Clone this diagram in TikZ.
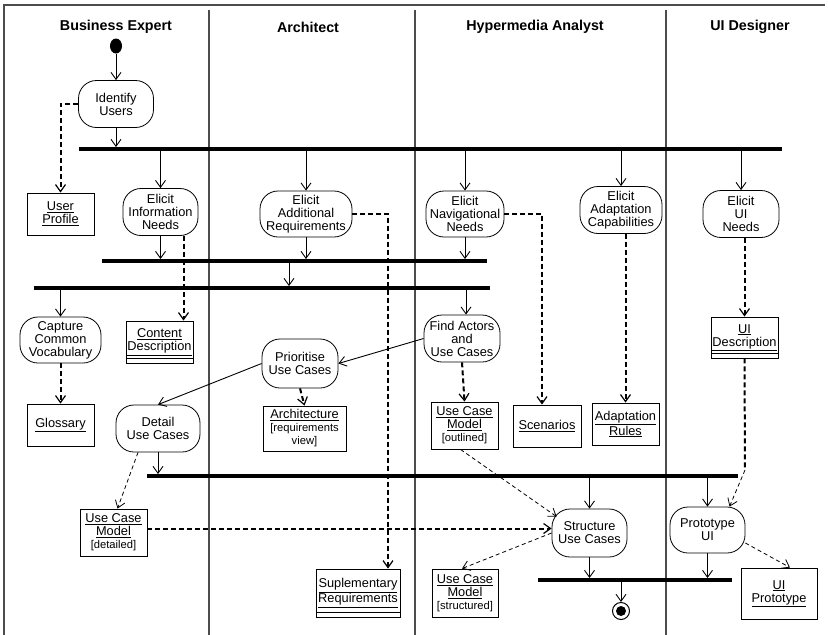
\documentclass[tikz,border=0pt]{standalone}
\usepackage{fontspec}
\setmainfont{Liberation Sans}
\usetikzlibrary{positioning,arrows.meta,shapes.geometric}
\newcommand{\actfont}{\fontsize{12.8}{13}\selectfont}
\newcommand{\tagfont}{\fontsize{11.2}{12}\selectfont}
\tikzset{
  lane/.style={line width=1.2pt,black!70},
  lanehead/.style={font=\bfseries\fontsize{14.3}{16}\selectfont},
  act/.style={draw,line width=0.8pt,rectangle,rounded corners=18pt,align=center,inner sep=0pt,font=\actfont},
  obj/.style={draw,line width=0.9pt,rectangle,align=center,inner sep=0pt,font=\actfont},
  objc/.style={obj,path picture={\draw[line width=0.8pt] ([yshift=5pt]path picture bounding box.south west) -- ([yshift=5pt]path picture bounding box.south east);}},
  bar/.style={fill=black,inner sep=0pt,minimum height=3.5pt},
  flow/.style={line width=0.9pt,-{Straight Barb[length=7pt,width=10pt]}},
  oflow/.style={line width=2pt,dash pattern=on 5pt off 3pt,-{Straight Barb[length=7pt,width=10pt,line width=1.2pt]}},
  tflow/.style={line width=0.8pt,dash pattern=on 4pt off 3pt,-{Straight Barb[length=7pt,width=10pt]}},
  startst/.style={ellipse,fill=black,minimum width=12pt,minimum height=15pt,inner sep=0pt},
  endst/.style={circle,draw,line width=1pt,minimum size=17pt,inner sep=0pt,path picture={\fill (path picture bounding box.center) circle (5pt);}}
}
\begin{document}
\begin{tikzpicture}[x=1pt,y=-1pt]
  \useasboundingbox (0,0) rectangle (828,635);
  % swimlanes
  \draw[lane] (4,635) -- (4,5) -- (825,5);
  \foreach \lx in {209,415,666} \draw[lane] (\lx,10) -- (\lx,635);
  \node[lanehead] (hbe) at (116,27) {Business Expert};
  \node[lanehead] (har) at (308,27) {Architect};
  \node[lanehead] (hha) at (535,27) {Hypermedia Analyst};
  \node[lanehead] (hui) at (750,27) {UI Designer};

  % synchronisation bars
  \node[bar,minimum width=703pt] (bar1) at (430.5,149) {};
  \node[bar,minimum width=385pt] (bar2) at (294.5,261) {};
  \node[bar,minimum width=456pt] (bar3) at (262,288) {};
  \node[bar,minimum width=591pt] (bar4) at (442.5,476) {};
  \node[bar,minimum width=194pt] (bar5) at (635,580) {};

  % activities
  \node[startst] (start) at (116,46) {};
  \node[act,minimum width=75pt,minimum height=47pt] (iu) at (116,104) {Identify\\Users};
  \node[act,minimum width=75pt,minimum height=47pt] (ein) at (160.5,212) {Elicit\\Information\\Needs};
  \node[act,minimum width=92pt,minimum height=46pt] (ear) at (306,214) {Elicit\\Additional\\Requirements};
  \node[act,minimum width=78pt,minimum height=46pt] (enn) at (465,214) {Elicit\\Navigational\\Needs};
  \node[act,minimum width=82pt,minimum height=47pt] (eac) at (621,210) {Elicit\\Adaptation\\Capabilities};
  \node[act,minimum width=76pt,minimum height=47pt] (eui) at (741,214) {Elicit\\UI\\Needs};
  \node[act,minimum width=81pt,minimum height=46pt] (ccv) at (60.5,340) {Capture\\Common\\Vocabulary};
  \node[act,minimum width=76pt,minimum height=47pt] (fauc) at (462,338.5) {Find Actors\\and\\Use Cases};
  \node[act,minimum width=76pt,minimum height=49pt] (puc) at (300,363.5) {Prioritise\\Use Cases};
  \node[act,minimum width=84pt,minimum height=47pt] (duc) at (158,428.5) {Detail\\Use Cases};
  \node[act,minimum width=75pt,minimum height=48pt] (suc) at (589.5,533) {Structure\\Use Cases};
  \node[act,minimum width=75pt,minimum height=46pt] (pui) at (707.5,530) {Prototype\\UI};
  \node[endst] (fin) at (621,611) {};

  % objects
  \node[obj,minimum width=67pt,minimum height=42pt] (up) at (60.5,214) {\underline{User}\\\underline{Profile}};
  \node[objc,minimum width=67pt,minimum height=42pt] (cd) at (159.5,342) {\underline{Content}\\\underline{Description}};
  \node[obj,minimum width=67pt,minimum height=42pt] (gl) at (60.5,425) {\underline{Glossary}};
  \node[obj,minimum width=83pt,minimum height=45pt] (arch) at (304.5,428.5) {\underline{Architecture}\\{\tagfont[requirements}\\{\tagfont view]}};
  \node[obj,minimum width=67pt,minimum height=47pt] (ucmo) at (464.5,425.5) {\underline{Use Case}\\\underline{Model}\\{\tagfont[outlined]}};
  \node[obj,minimum width=68pt,minimum height=42pt] (sc) at (547,426) {\underline{Scenarios}};
  \node[obj,minimum width=67pt,minimum height=42pt] (ar) at (625.5,424) {\underline{Adaptation}\\\underline{Rules}};
  \node[objc,minimum width=67pt,minimum height=41pt] (uid) at (744.5,337.5) {\underline{UI}\\\underline{Description}};
  \node[obj,minimum width=67pt,minimum height=47pt] (ucmd) at (113.5,532.5) {\underline{Use Case}\\\underline{Model}\\{\tagfont[detailed]}};
  \node[obj,minimum width=66pt,minimum height=48pt] (ucms) at (465,593) {\underline{Use Case}\\\underline{Model}\\{\tagfont[structured]}};
  \node[objc,minimum width=84pt,minimum height=48pt] (sr) at (358,593) {\underline{Suplementary}\\\underline{Requirements}};
  \node[obj,minimum width=76pt,minimum height=51pt] (uip) at (779,593.5) {\underline{UI}\\\underline{Prototype}};

  % control flow
  \draw[flow] (start) -- (iu);
  \draw[flow] (iu.south) -- (iu.south |- bar1.north);
  \foreach \n in {ein,ear,enn,eac,eui}
    \draw[flow] (\n.north |- bar1.south) -- (\n.north);
  \foreach \n in {ein,ear,enn}
    \draw[flow] (\n.south) -- (\n.south |- bar2.north);
  \draw[flow] (289,0 |- bar2.south) -- (289,0 |- bar3.north);
  \draw[flow] (ccv.north |- bar3.south) -- (ccv.north);
  \draw[flow] ([xshift=4pt]fauc.north |- bar3.south) -- ([xshift=4pt]fauc.north);
  \draw[flow] (fauc.west) -- (puc.east);
  \draw[flow] (puc.west) -- (duc.north);
  \draw[flow] (duc.south) -- (duc.south |- bar4.north);
  \draw[flow] (suc.north |- bar4.south) -- (suc.north);
  \draw[flow] (pui.north |- bar4.south) -- (pui.north);
  \draw[flow] (suc.south) -- (suc.south |- bar5.north);
  \draw[flow] (pui.south) -- (pui.south |- bar5.north);
  \draw[flow] (fin.north |- bar5.south) -- (fin.north);

  % object flow
  \draw[oflow] (iu.west) -| (up.north);
  \draw[oflow] (ear.east) -| ([xshift=30pt]sr.north);
  \draw[oflow] (enn.east) -| ([xshift=-5pt]sc.north);
  \draw[oflow] (ar.north |- eac.south) -- (ar.north);
  \draw[oflow] (uid.north |- eui.south) -- (uid.north);
  \draw[oflow] ([xshift=23pt]ein.south) -- ([xshift=23pt]ein.south |- cd.north);
  \draw[oflow] (ccv.south) -- (gl.north);
  \draw[oflow] (puc.south) -- (arch.north);
  \draw[oflow] (fauc.south) -- (ucmo.north);
  \draw[oflow] ([yshift=4pt]ucmd.east) -- ([yshift=4pt]ucmd.east -| suc.west);
  \coordinate (uibend) at (745,470);
  \draw[oflow,-] (uid.south) -- (uibend);
  \draw[tflow] (uibend) -- ([xshift=22pt]pui.north);
  \draw[tflow] ([xshift=-20pt]duc.south) -- ([xshift=4pt]ucmd.north);
  \draw[tflow] ([xshift=-4pt]ucmo.south) -- ([xshift=5pt,yshift=-8pt]suc.north west);
  \draw[tflow] (suc.west) -- ([xshift=-3pt]ucms.north);
  \draw[tflow] ([yshift=-13pt]pui.east) -- ([xshift=11pt]uip.north);
\end{tikzpicture}
\end{document}
